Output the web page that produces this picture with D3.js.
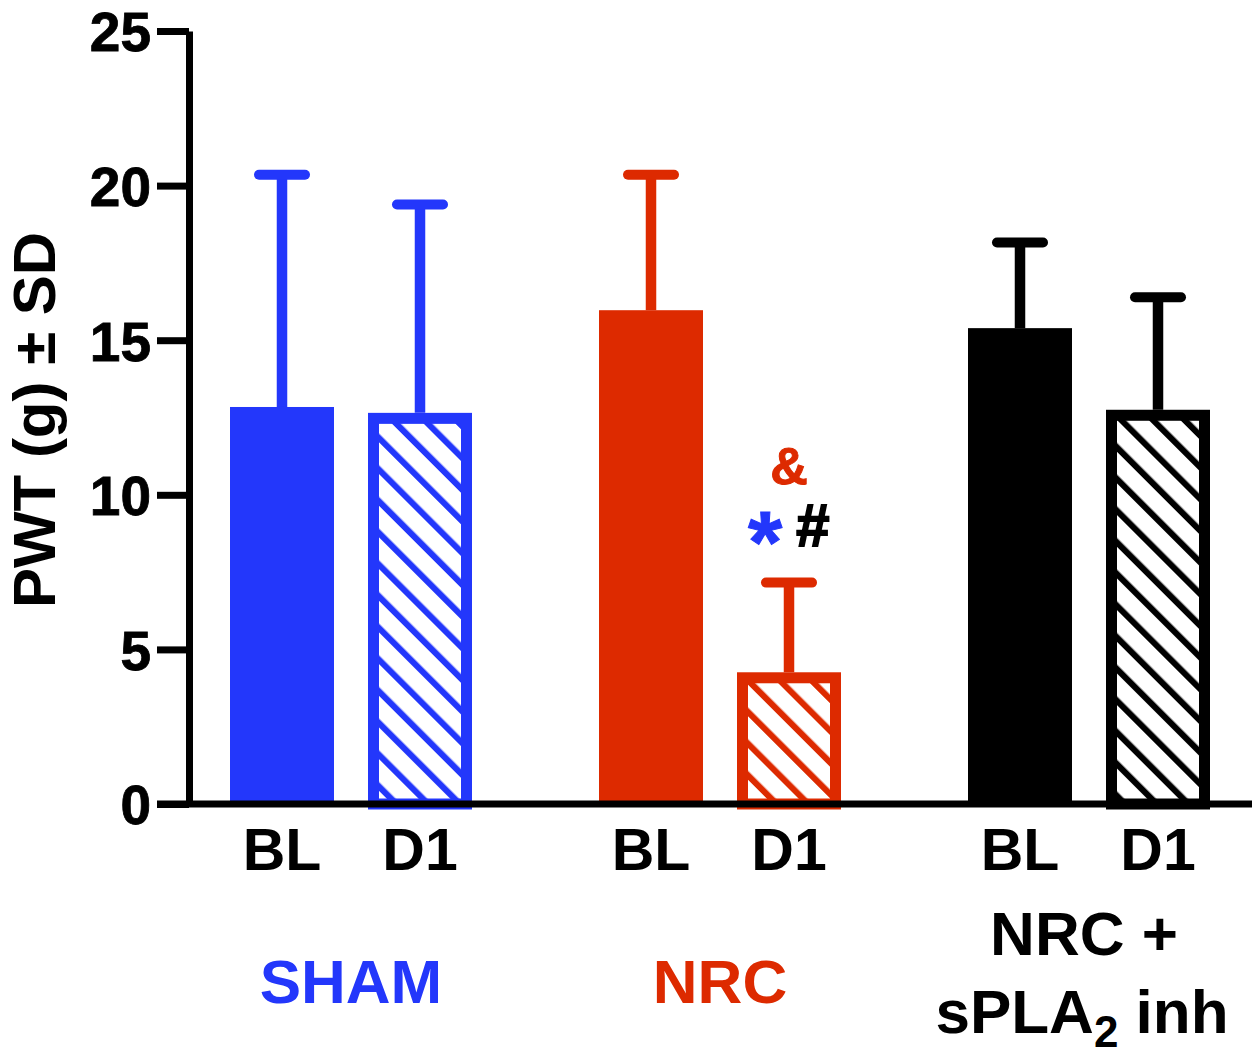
<!DOCTYPE html>
<html><head><meta charset="utf-8">
<script src="https://cdn.jsdelivr.net/npm/d3@7"></script>
<style>body{margin:0;background:#fff}svg{display:block}text{font-family:"Liberation Sans",Arial,sans-serif;font-weight:bold}</style>
</head><body>
<script>
const groups = ["SHAM", "NRC", "NRC+sPLA2"];
const conditions = ["BL", "D1"];
const means = [[12.84, 12.65], [15.97, 4.26], [15.39, 12.75]];
const sds = [[7.51, 6.74], [4.38, 2.90], [2.77, 3.64]];
const yTicks = [0, 5, 10, 15, 20, 25];
const colors = ["#2337fb", "#dd2a00", "#000000"];

const W = 1260, H = 1061;
const svg = d3.select("body").append("svg").attr("width", W).attr("height", H);
const y = d3.scaleLinear().domain([0, 25]).range([804, 31]);
const xg = d3.scalePoint().domain(groups).range([351, 1089]);
const xc = d3.scalePoint().domain(conditions).range([-69, 69]);
const barW = 104, sw = 11;

const defs = svg.append("defs");
colors.forEach((c, i) => {
  const p = defs.append("pattern").attr("id", "hatch" + i)
    .attr("patternUnits", "userSpaceOnUse").attr("width", 22.4).attr("height", 22.4)
    .attr("patternTransform", "rotate(-45)");
  p.append("rect").attr("width", 22.4).attr("height", 22.4).attr("fill", "#fff");
  p.append("rect").attr("x", 0).attr("width", 6.2).attr("height", 22.4).attr("fill", c);
});

const data = [];
groups.forEach((g, gi) => conditions.forEach((c, ci) => data.push({g, gi, c, ci, m: means[gi][ci], s: sds[gi][ci]})));

// error bars
data.forEach(d => {
  const cx = xg(d.g) + xc(d.c);
  svg.append("line").attr("x1", cx).attr("x2", cx).attr("y1", y(d.m)).attr("y2", y(d.m + d.s))
    .attr("stroke", colors[d.gi]).attr("stroke-width", 10.5);
  svg.append("line").attr("x1", cx - 23).attr("x2", cx + 23).attr("y1", y(d.m + d.s)).attr("y2", y(d.m + d.s))
    .attr("stroke", colors[d.gi]).attr("stroke-width", 10).attr("stroke-linecap", "round");
});
// bars
data.forEach(d => {
  const cx = xg(d.g) + xc(d.c);
  if (d.ci === 0) {
    svg.append("rect").attr("x", cx - barW / 2).attr("y", y(d.m)).attr("width", barW).attr("height", y(0) - y(d.m))
      .attr("fill", colors[d.gi]);
  } else {
    svg.append("rect").attr("x", cx - barW / 2 + sw / 2).attr("y", y(d.m) + sw / 2)
      .attr("width", barW - sw).attr("height", y(0) - y(d.m) - sw / 2)
      .attr("fill", "url(#hatch" + d.gi + ")").attr("stroke", colors[d.gi]).attr("stroke-width", sw);
  }
});

// axes
const yAxis = svg.append("g").attr("transform", "translate(189,0)")
  .call(d3.axisLeft(y).tickValues(yTicks).tickSize(32).tickPadding(6).tickSizeOuter(0));
yAxis.select(".domain").attr("stroke", "#000").attr("stroke-width", 7);
yAxis.selectAll(".tick line").attr("stroke", "#000").attr("stroke-width", 7);
yAxis.selectAll(".tick text").attr("font-size", 55).attr("fill", "#000").attr("dy", "0.36em")
  .attr("stroke", "#000").attr("stroke-width", 0.8)
  .attr("font-family", "Liberation Sans, Arial, sans-serif").attr("font-weight", "bold");
svg.append("line").attr("x1", 157).attr("x2", 1252).attr("y1", y(0)).attr("y2", y(0))
  .attr("stroke", "#000").attr("stroke-width", 7);

// x labels
data.forEach(d => {
  svg.append("text").attr("x", xg(d.g) + xc(d.c)).attr("y", 870).attr("text-anchor", "middle")
    .attr("font-size", 59).text(d.c);
});
svg.append("text").attr("x", xg("SHAM")).attr("y", 1003).attr("text-anchor", "middle")
  .attr("font-size", 62).attr("fill", colors[0]).text("SHAM");
svg.append("text").attr("x", xg("NRC")).attr("y", 1003).attr("text-anchor", "middle")
  .attr("font-size", 62).attr("fill", colors[1]).text("NRC");
svg.append("text").attr("x", 1084).attr("y", 955).attr("text-anchor", "middle")
  .attr("font-size", 62).text("NRC +");
const t2 = svg.append("text").attr("x", 1082).attr("y", 1033).attr("text-anchor", "middle").attr("font-size", 62);
t2.append("tspan").text("sPLA");
t2.append("tspan").attr("font-size", 44).attr("dy", 14).text("2");
t2.append("tspan").attr("dy", -14).text(" inh");

// y title
svg.append("text").attr("transform", "translate(55,420) rotate(-90)").attr("text-anchor", "middle")
  .attr("font-size", 60).text("PWT (g) ± SD");

// significance marks
const nx = xg("NRC") + xc("D1");
svg.append("text").attr("x", nx).attr("y", 484).attr("text-anchor", "middle").attr("font-size", 52)
  .attr("fill", colors[1]).attr("stroke", colors[1]).attr("stroke-width", 1).text("&");
svg.append("text").attr("x", nx - 24).attr("y", 572).attr("text-anchor", "middle").attr("font-size", 88)
  .attr("fill", colors[0]).attr("stroke", colors[0]).attr("stroke-width", 1).text("*");
svg.append("text").attr("x", nx + 23).attr("y", 546).attr("text-anchor", "middle").attr("font-size", 60)
  .attr("fill", "#000").attr("stroke", "#000").attr("stroke-width", 1.8).attr("font-style", "italic").text("#");
</script>
</body></html>
